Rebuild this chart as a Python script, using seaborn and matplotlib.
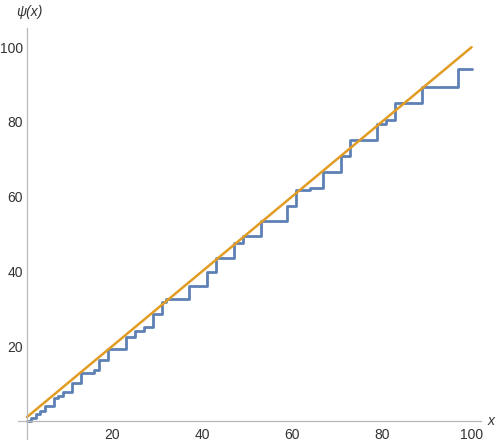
import matplotlib
matplotlib.use("Agg")
import matplotlib.pyplot as plt
import numpy as np
import seaborn as sns
from matplotlib.ticker import MultipleLocator

# jump points of psi(x) and the value after each jump
psi_x = [1, 2, 3, 4, 5, 7, 8, 9, 11, 13, 16, 17, 19, 23, 25, 27, 29, 31, 32,
         37, 41, 43, 47, 49, 53, 59, 61, 64, 67, 71, 73, 79, 81, 83, 89, 97, 100]
psi_y = [0, 0.69, 1.79, 2.49, 4.09, 6.04, 6.73, 7.83, 10.23, 12.80, 13.49, 16.32,
         19.27, 22.40, 24.01, 25.11, 28.48, 31.91, 32.60, 36.21, 39.93, 43.69,
         47.54, 49.49, 53.46, 57.53, 61.65, 62.34, 66.54, 70.81, 75.10, 79.47,
         80.57, 84.98, 89.47, 94.05, 94.05]
line_x = [1, 100]
line_y = [1, 100]

sns.set_style("white")
plt.rcParams["font.family"] = ["Liberation Sans", "DejaVu Sans"]

fig = plt.figure(figsize=(5, 4.45), dpi=100)
ax = fig.add_axes([18 / 500, 0.0124, (480.6 - 18) / 500, 0.936 - 0.0124])

blue = "#5E81B5"
orange = "#E19C24"
sns.lineplot(x=psi_x, y=psi_y, ax=ax, color=blue, lw=2, drawstyle="steps-post",
             estimator=None, sort=False)
sns.lineplot(x=line_x, y=line_y, ax=ax, color=orange, lw=1.8, estimator=None)

ax.set_xlim(-1, 102)
ax.set_ylim(-5, 105)

# axes cross at (1, 0) like the original
for s in ["top", "right"]:
    ax.spines[s].set_visible(False)
ax.spines["left"].set_position(("data", 1))
ax.spines["bottom"].set_position(("data", 0))
for s in ["left", "bottom"]:
    ax.spines[s].set_color("#b8b8b8")
    ax.spines[s].set_linewidth(0.9)

ax.xaxis.set_minor_locator(MultipleLocator(5))
ax.yaxis.set_minor_locator(MultipleLocator(5))
ax.set_xticks([20, 40, 60, 80, 100])
ax.set_yticks([20, 40, 60, 80, 100])
ax.tick_params(which="major", direction="in", length=5, width=0.8, color="#b8b8b8",
               labelsize=10, labelcolor="#333333")
ax.tick_params(axis="y", which="major", pad=3)
ax.tick_params(axis="x", which="major", pad=5)
ax.tick_params(which="minor", direction="in", length=3, width=0.6, color="#c8c8c8")

ax.text(1.5, 107.5, "ψ(x)", ha="center", va="bottom", fontsize=10,
        style="italic", color="#333333")
ax.text(103.5, 0, "x", ha="left", va="center", fontsize=10,
        style="italic", color="#333333")
ax.set_xlabel("")
ax.set_ylabel("")

fig.savefig("out.png", dpi=100)
